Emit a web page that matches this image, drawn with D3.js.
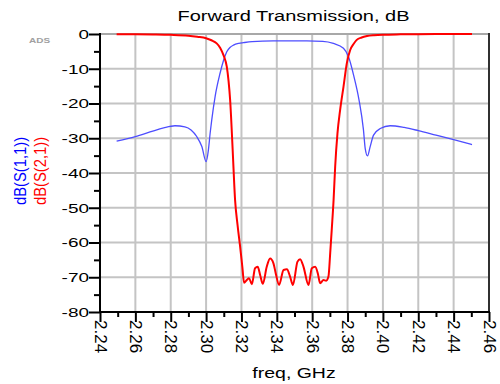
<!DOCTYPE html>
<html>
<head>
<meta charset="utf-8">
<script src="https://cdn.jsdelivr.net/npm/d3@7"></script>
<style>
  body { margin: 0; background: #fff; }
  svg { display: block; font-family: "Liberation Sans", Arial, sans-serif; }
</style>
</head>
<body>
<div class="chart"></div>
<script>
// dB(S(1,1)) - blue trace
var s11Freq = [2.2494, 2.26, 2.2683, 2.276, 2.2824, 2.288, 2.2915, 2.2947, 2.2976, 2.3000,
  2.3013, 2.3023, 2.3032, 2.3051, 2.3079, 2.3098, 2.3117, 2.3135, 2.3155, 2.3185,
  2.3211, 2.326, 2.338, 2.357, 2.366, 2.372, 2.3777, 2.3805, 2.3835, 2.3865,
  2.389, 2.3900, 2.3913, 2.3928, 2.3947, 2.3985, 2.4041, 2.412, 2.42, 2.43,
  2.44, 2.4504];
var s11Db = [-30.8, -29.5, -28.2, -27.0, -26.4, -26.7, -27.6, -29.5, -32.4, -36.7,
  -33.4, -28.5, -24.7, -18, -11.3, -7.7, -5.1, -3.9, -3.2, -2.7,
  -2.5, -2.2, -2.0, -2.0, -2.1, -2.7, -4.1, -6.5, -12, -19,
  -27.6, -33, -35.1, -32.4, -29.1, -27.2, -26.4, -26.9, -27.8, -29.1,
  -30.4, -31.8];

// dB(S(2,1)) - red trace
var s21Freq = [2.2494, 2.26, 2.27, 2.28, 2.29, 2.295, 2.300, 2.303, 2.306, 2.308,
  2.310, 2.3117, 2.3127, 2.3136, 2.3150, 2.3164, 2.3178, 2.3192, 2.3205, 2.3215,
  2.3230, 2.3243, 2.3259, 2.3277, 2.3292, 2.3306, 2.3321, 2.3343, 2.3362, 2.3381,
  2.3394, 2.3413, 2.3438, 2.3457, 2.3475, 2.3491, 2.3517, 2.3532, 2.3551, 2.3579,
  2.3598, 2.3617, 2.3632, 2.3645, 2.3664, 2.3679, 2.3692, 2.3702, 2.3711, 2.3721,
  2.3730, 2.3743, 2.3758, 2.3777, 2.3796, 2.3815, 2.3835, 2.3852, 2.388, 2.391,
  2.395, 2.40, 2.41, 2.42, 2.43, 2.44, 2.4504];
var s21Db = [-0.05, -0.1, -0.15, -0.25, -0.5, -0.8, -1.2, -1.8, -2.7, -4.0,
  -6.3, -9.4, -13.5, -19, -33, -47.8, -55, -61, -67, -71.6,
  -70.8, -70.3, -72.0, -67.4, -67.0, -69.4, -71.9, -67.0, -64.6, -66.0,
  -68.9, -72.2, -67.9, -67.7, -69.8, -72.2, -65.5, -64.8, -67.0, -72.2,
  -67.4, -67.0, -68.9, -71.7, -70.8, -71.0, -69.8, -63, -56, -47.8,
  -38.2, -28.6, -21.9, -15.2, -8.4, -4.6, -2.8, -1.7, -1.0, -0.6,
  -0.35, -0.2, -0.1, -0.05, -0.03, -0.02, 0];

var xTicks = [2.24, 2.26, 2.28, 2.30, 2.32, 2.34, 2.36, 2.38, 2.40, 2.42, 2.44, 2.46];
var xMinor = [2.25, 2.27, 2.29, 2.31, 2.33, 2.35, 2.37, 2.39, 2.41, 2.43, 2.45];
var yTicks = [0, -10, -20, -30, -40, -50, -60, -70, -80];
var yMinor = [-5, -15, -25, -35, -45, -55, -65, -75];

var W = 500, H = 384;
var plotL = 100, plotR = 489, plotT = 34, plotB = 312;

var svg = d3.select(".chart").append("svg")
    .attr("width", W)
    .attr("height", H);

var x = d3.scaleLinear().domain([2.24, 2.46]).range([plotL, plotR]);
var y = d3.scaleLinear().domain([-80, 0]).range([plotB, plotT]);

// grid
svg.append("g").selectAll("line").data(xTicks.slice(1, -1)).enter()
    .append("line")
    .attr("x1", function(d) { return x(d); })
    .attr("x2", function(d) { return x(d); })
    .attr("y1", plotT).attr("y2", plotB)
    .style("stroke", "#c4c4c4").style("stroke-width", 2);
svg.append("g").selectAll("line").data(yTicks.slice(0, -1)).enter()
    .append("line")
    .attr("x1", plotL).attr("x2", plotR)
    .attr("y1", function(d) { return y(d); })
    .attr("y2", function(d) { return y(d); })
    .style("stroke", function(d) { return d === 0 ? "#a8a8a8" : "#c4c4c4"; })
    .style("stroke-width", 2);

// right border
svg.append("line")
    .attr("x1", plotR).attr("x2", plotR).attr("y1", plotT - 1).attr("y2", plotB)
    .style("stroke", "#303030").style("stroke-width", 2);

// axes (lines + ticks only, labels drawn below)
function styleAxis(g) {
    g.selectAll("path, line").style("stroke", "#000").style("stroke-width", 2);
    g.select(".domain").remove();
}
svg.append("g").attr("transform", "translate(" + plotL + ",0)")
    .call(d3.axisLeft(y).tickValues(yTicks).tickSize(11).tickFormat(""))
    .call(styleAxis);
svg.append("g").attr("transform", "translate(" + plotL + ",0)")
    .call(d3.axisLeft(y).tickValues(yMinor).tickSize(6).tickFormat(""))
    .call(styleAxis);
svg.append("g").attr("transform", "translate(0," + plotB + ")")
    .call(d3.axisBottom(x).tickValues(xTicks).tickSize(10).tickFormat(""))
    .call(styleAxis);
svg.append("g").attr("transform", "translate(0," + plotB + ")")
    .call(d3.axisBottom(x).tickValues(xMinor).tickSize(5).tickFormat(""))
    .call(styleAxis);
svg.append("line")
    .attr("x1", plotL).attr("x2", plotL).attr("y1", plotT - 1).attr("y2", plotB + 1)
    .style("stroke", "#000").style("stroke-width", 2);
svg.append("line")
    .attr("x1", plotL - 1).attr("x2", plotR + 1).attr("y1", plotB).attr("y2", plotB)
    .style("stroke", "#000").style("stroke-width", 2);

// tick labels
svg.append("g").selectAll("text").data(yTicks).enter()
    .append("text")
    .attr("transform", function(d) { return "translate(89," + y(d) + ") scale(1,0.7)"; })
    .attr("text-anchor", "end")
    .attr("dominant-baseline", "central")
    .style("font-size", "19px")
    .text(function(d) { return d; });
svg.append("g").selectAll("text").data(xTicks).enter()
    .append("text")
    .attr("transform", function(d) { return "translate(" + x(d) + ",320) rotate(90)"; })
    .attr("text-anchor", "start")
    .attr("dominant-baseline", "central")
    .style("font-size", "17px")
    .text(function(d) { return d.toFixed(2); });

// traces
var line = d3.line()
    .x(function(d) { return x(d[0]); })
    .y(function(d) { return y(d[1]); })
    .curve(d3.curveMonotoneX);
svg.append("path")
    .datum(d3.zip(s11Freq, s11Db))
    .attr("d", line)
    .style("fill", "none").style("stroke", "#4d4dff").style("stroke-width", 1.3);
svg.append("path")
    .datum(d3.zip(s21Freq, s21Db))
    .attr("d", line)
    .style("fill", "none").style("stroke", "#ff0000").style("stroke-width", 2);

// titles
svg.append("text")
    .attr("transform", "translate(293.5,21) scale(1,0.75)")
    .attr("text-anchor", "middle")
    .style("font-size", "20px")
    .text("Forward Transmission, dB");
svg.append("text")
    .attr("transform", "translate(294,378) scale(1,0.78)")
    .attr("text-anchor", "middle")
    .style("font-size", "19.5px")
    .text("freq, GHz");
svg.append("text")
    .attr("transform", "translate(29,43) scale(1,0.7)")
    .style("font-size", "10px").style("font-weight", "bold")
    .style("fill", "#a0a0a0")
    .text("ADS");
svg.append("text")
    .attr("transform", "translate(20,171) scale(1,0.87) rotate(-90)")
    .attr("text-anchor", "middle")
    .attr("dominant-baseline", "central")
    .style("font-size", "17px").style("fill", "#0000ff")
    .text("dB(S(1,1))");
svg.append("text")
    .attr("transform", "translate(40,171) scale(1,0.87) rotate(-90)")
    .attr("text-anchor", "middle")
    .attr("dominant-baseline", "central")
    .style("font-size", "17px").style("fill", "#ff0000")
    .text("dB(S(2,1))");
</script>
</body>
</html>
